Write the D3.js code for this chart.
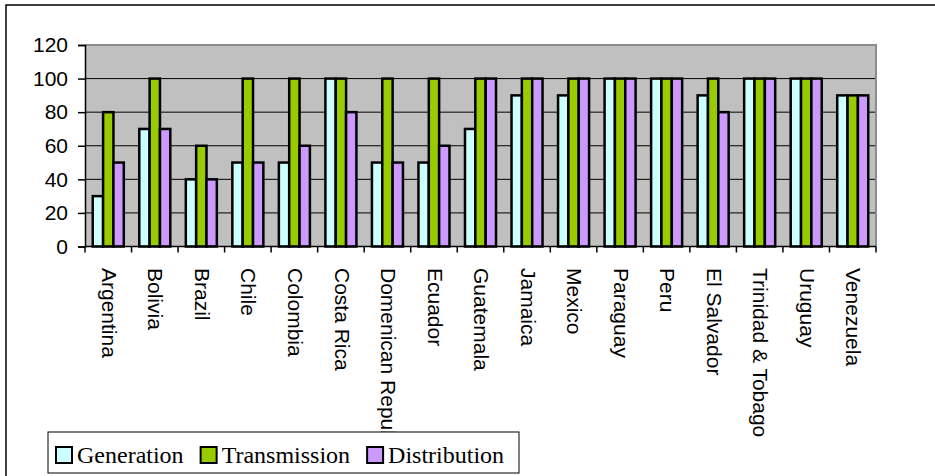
<!DOCTYPE html>
<html>
<head>
<meta charset="utf-8">
<script src="https://cdn.jsdelivr.net/npm/d3@7"></script>
<style>
  html, body { margin: 0; padding: 0; background: #fff; }
  svg { display: block; }
</style>
</head>
<body>
<svg id="chart" width="935" height="476"></svg>
<script>
// Countries along the x axis
const categories = ["Argentina", "Bolivia", "Brazil", "Chile", "Colombia", "Costa Rica",
  "Domenican Republic", "Ecuador", "Guatemala", "Jamaica", "Mexico", "Paraguay", "Peru",
  "El Salvador", "Trinidad & Tobago", "Uruguay", "Venezuela"];

// Scores per segment of the power sector
const generation   = [30, 70, 40, 50, 50, 100, 50, 50, 70, 90, 90, 100, 100, 90, 100, 100, 90];
const transmission = [80, 100, 60, 100, 100, 100, 100, 100, 100, 100, 100, 100, 100, 100, 100, 100, 90];
const distribution = [50, 70, 40, 50, 60, 80, 50, 60, 100, 100, 100, 100, 100, 80, 100, 100, 90];

const seriesNames = ["Generation", "Transmission", "Distribution"];
const seriesColors = ["#CCFFFF", "#99CC00", "#CC99FF"];
const yTicks = [0, 20, 40, 60, 80, 100, 120];

const series = [generation, transmission, distribution];

const svg = d3.select("#chart");

// outer chart frame (runs past the right and bottom edges)
svg.append("rect")
  .attr("x", 6).attr("y", 5).attr("width", 940).attr("height", 480)
  .attr("fill", "#fff").attr("stroke", "#000").attr("stroke-width", 1.5);

const plot = { left: 85, top: 45, right: 876, bottom: 246.5 };

const x0 = d3.scaleBand().domain(categories).range([plot.left, plot.right]).paddingInner(0).paddingOuter(0);
// 150% gap width: each category holds 3 bars plus 1.5 bar widths of gap
const x1 = d3.scaleBand().domain(d3.range(series.length))
  .range([0, x0.bandwidth()]).paddingInner(0).paddingOuter(0.75);
const y = d3.scaleLinear().domain([0, 120]).range([plot.bottom, plot.top]);

// plot background
svg.append("rect")
  .attr("x", plot.left).attr("y", plot.top)
  .attr("width", plot.right - plot.left).attr("height", plot.bottom - plot.top)
  .attr("fill", "#C0C0C0");

// horizontal gridlines
svg.append("g").selectAll("line")
  .data(yTicks.filter(t => t > 0 && t < 120))
  .join("line")
  .attr("x1", plot.left).attr("x2", plot.right)
  .attr("y1", d => y(d)).attr("y2", d => y(d))
  .attr("stroke", "#000").attr("stroke-width", 1);

// top and right border of the plot area
svg.append("path")
  .attr("d", `M${plot.left},${plot.top}H${plot.right}V${plot.bottom}`)
  .attr("fill", "none").attr("stroke", "#8c8c8c").attr("stroke-width", 2);

// bars
const groups = svg.append("g").selectAll("g")
  .data(categories)
  .join("g")
  .attr("transform", d => `translate(${x0(d)},0)`);

groups.selectAll("rect")
  .data((d, i) => series.map((s, k) => ({ k, v: s[i] })))
  .join("rect")
  .attr("x", d => x1(d.k))
  .attr("width", x1.bandwidth())
  .attr("y", d => y(d.v))
  .attr("height", d => y(0) - y(d.v))
  .attr("fill", d => seriesColors[d.k])
  .attr("stroke", "#000").attr("stroke-width", 2.5);

// y axis
const yAxis = svg.append("g")
  .attr("transform", `translate(${plot.left},0)`)
  .call(d3.axisLeft(y).tickValues(yTicks).tickSize(7).tickPadding(10).tickFormat(d3.format("d")));
yAxis.select(".domain").attr("stroke", "#000").attr("stroke-width", 1.5);
yAxis.selectAll(".tick line").attr("stroke", "#000").attr("stroke-width", 1.5);
yAxis.selectAll("text")
  .attr("font-family", "Liberation Sans, Arial, sans-serif")
  .attr("font-size", 21).attr("fill", "#000");

// x axis with boundary ticks between categories
const xAxisG = svg.append("g").attr("transform", `translate(0,${plot.bottom})`);
xAxisG.append("line")
  .attr("x1", plot.left).attr("x2", plot.right)
  .attr("stroke", "#000").attr("stroke-width", 1.5);
xAxisG.selectAll("line.tick")
  .data(categories.concat([null]))
  .join("line").attr("class", "tick")
  .attr("x1", (d, i) => i < categories.length ? x0(d) : plot.right)
  .attr("x2", (d, i) => i < categories.length ? x0(d) : plot.right)
  .attr("y1", 0).attr("y2", 6)
  .attr("stroke", "#000").attr("stroke-width", 1.5);

// rotated category labels
svg.append("g").selectAll("text")
  .data(categories)
  .join("text")
  .attr("transform", d => `translate(${x0(d) + x0.bandwidth() / 2 + 1},268) rotate(90)`)
  .attr("dy", "0.35em")
  .attr("text-anchor", "start")
  .attr("font-family", "Liberation Sans, Arial, sans-serif")
  .attr("font-size", 21)
  .attr("fill", "#000")
  .text(d => d);

// legend (drawn on top with a white fill)
const legend = svg.append("g").attr("transform", "translate(48,432)");
legend.append("rect")
  .attr("width", 471).attr("height", 41)
  .attr("fill", "#fff").attr("stroke", "#000").attr("stroke-width", 1);

let lx = 7;
const legendItems = legend.selectAll("g.item").data(seriesNames).join("g").attr("class", "item");
legendItems.each(function (name, i) {
  const g = d3.select(this).attr("transform", `translate(${lx},0)`);
  g.append("rect")
    .attr("x", 1).attr("y", 15).attr("width", 16).attr("height", 16)
    .attr("fill", seriesColors[i]).attr("stroke", "#000").attr("stroke-width", 2);
  const t = g.append("text")
    .attr("x", 22).attr("y", 31)
    .attr("font-family", "Liberation Serif, Times New Roman, serif")
    .attr("font-size", 24).attr("fill", "#000")
    .text(name);
  lx += 22 + t.node().getComputedTextLength() + 16;
});
</script>
</body>
</html>
